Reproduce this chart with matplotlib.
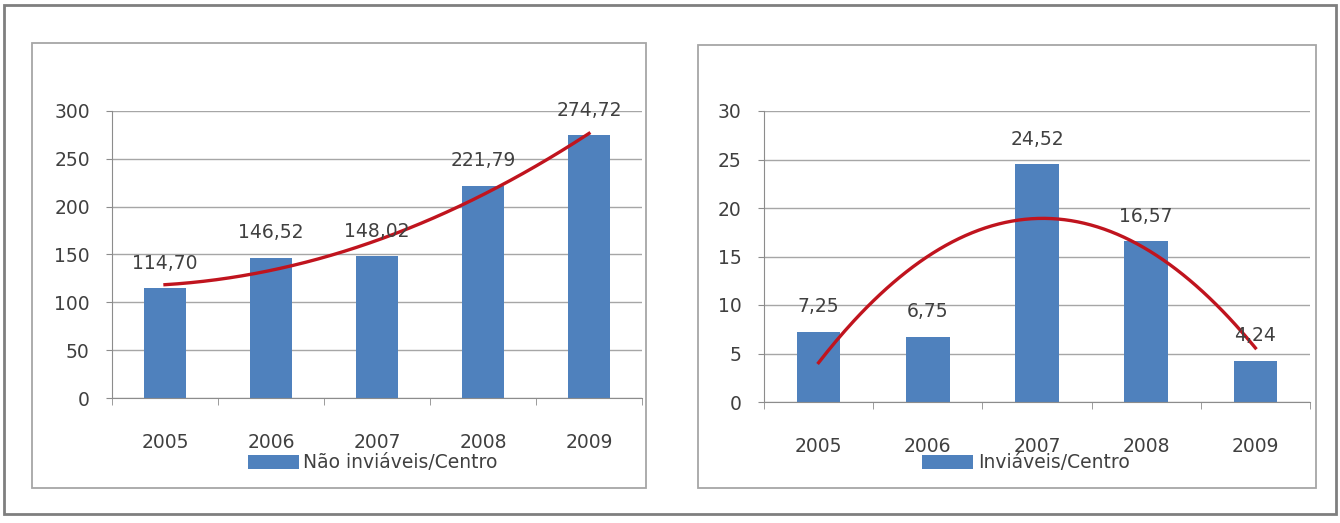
import numpy as np
import matplotlib
matplotlib.use("Agg")
import matplotlib.pyplot as plt
from matplotlib.patches import Rectangle

# Dados
anos = ["2005", "2006", "2007", "2008", "2009"]
nao_inviaveis = [114.70, 146.52, 148.02, 221.79, 274.72]
inviaveis = [7.25, 6.75, 24.52, 16.57, 4.24]
rotulo_esq = "Não inviáveis/Centro"
rotulo_dir = "Inviáveis/Centro"

W, H = 1340, 523
plt.rcParams['font.family'] = ['DejaVu Sans']
cinza_txt = "#404040"
azul = "#4F81BD"
vermelho = "#C0141E"

fig = plt.figure(figsize=(W / 100, H / 100), dpi=100)


def px_rect(x0, y0, x1, y1):
    # converte pixels (origem em cima) para coordenadas da figura
    return [x0 / W, 1 - y1 / H, (x1 - x0) / W, (y1 - y0) / H]


# moldura externa e caixas dos gráficos
for (x0, y0, x1, y1, cor, lw) in [(4, 5, 1336, 514, "#7F7F7F", 2.0),
                                  (32, 43, 646, 488, "#A6A6A6", 1.3),
                                  (698, 45, 1316, 488, "#A6A6A6", 1.3)]:
    r = px_rect(x0, y0, x1, y1)
    fig.patches.append(Rectangle((r[0], r[1]), r[2], r[3], transform=fig.transFigure,
                                 fill=False, edgecolor=cor, linewidth=lw))


def desenha(ax, valores, ymax, passo, rotulo, leg_xy):
    x = np.arange(len(anos))
    barras = ax.bar(x, valores, width=0.4, color=azul, label=rotulo, zorder=2)
    # linha de tendência polinomial (ordem 2)
    coef = np.polyfit(x, valores, 2)
    xs = np.linspace(0, len(anos) - 1, 200)
    ax.plot(xs, np.polyval(coef, xs), color=vermelho, linewidth=2.4, zorder=3)
    for xi, v in zip(x, valores):
        ax.annotate(f"{v:.2f}".replace(".", ","), (xi, v), xytext=(0, 18),
                    textcoords="offset points", ha="center", va="center",
                    fontsize=13.5, color=cinza_txt, annotation_clip=False)
    ax.set_xlim(-0.5, len(anos) - 0.5)
    ax.set_ylim(0, ymax)
    ax.set_yticks(np.arange(0, ymax + passo / 2, passo))
    ax.set_xticks(x)
    ax.set_xticklabels(anos)
    ax.set_xticks(np.arange(-0.5, len(anos), 1), minor=True)
    ax.tick_params(axis="x", which="major", length=0, pad=25, labelsize=13.5, labelcolor=cinza_txt)
    ax.tick_params(axis="x", which="minor", length=5, direction="out", color="#8C8C8C")
    ax.tick_params(axis="y", length=4, direction="out", color="#8C8C8C", pad=12,
                   labelsize=13.5, labelcolor=cinza_txt)
    ax.grid(axis="y", color="#A6A6A6", linewidth=1.0, zorder=0)
    ax.set_axisbelow(True)
    for s in ["top", "right"]:
        ax.spines[s].set_visible(False)
    for s in ["left", "bottom"]:
        ax.spines[s].set_color("#8C8C8C")
    ax.legend(handles=[barras], labels=[rotulo], loc="center",
              bbox_to_anchor=(leg_xy[0] / W, 1 - leg_xy[1] / H), bbox_transform=fig.transFigure,
              frameon=False, fontsize=13.5, handlelength=2.7, handleheight=0.7,
              handletextpad=0.25, labelcolor=cinza_txt, borderpad=0)


ax1 = fig.add_axes(px_rect(112, 111, 642, 398))
desenha(ax1, nao_inviaveis, 300, 50, rotulo_esq, (373, 463))

ax2 = fig.add_axes(px_rect(764, 111, 1310, 402))
desenha(ax2, inviaveis, 30, 5, rotulo_dir, (1026, 463))

fig.savefig("out.png", dpi=100)
